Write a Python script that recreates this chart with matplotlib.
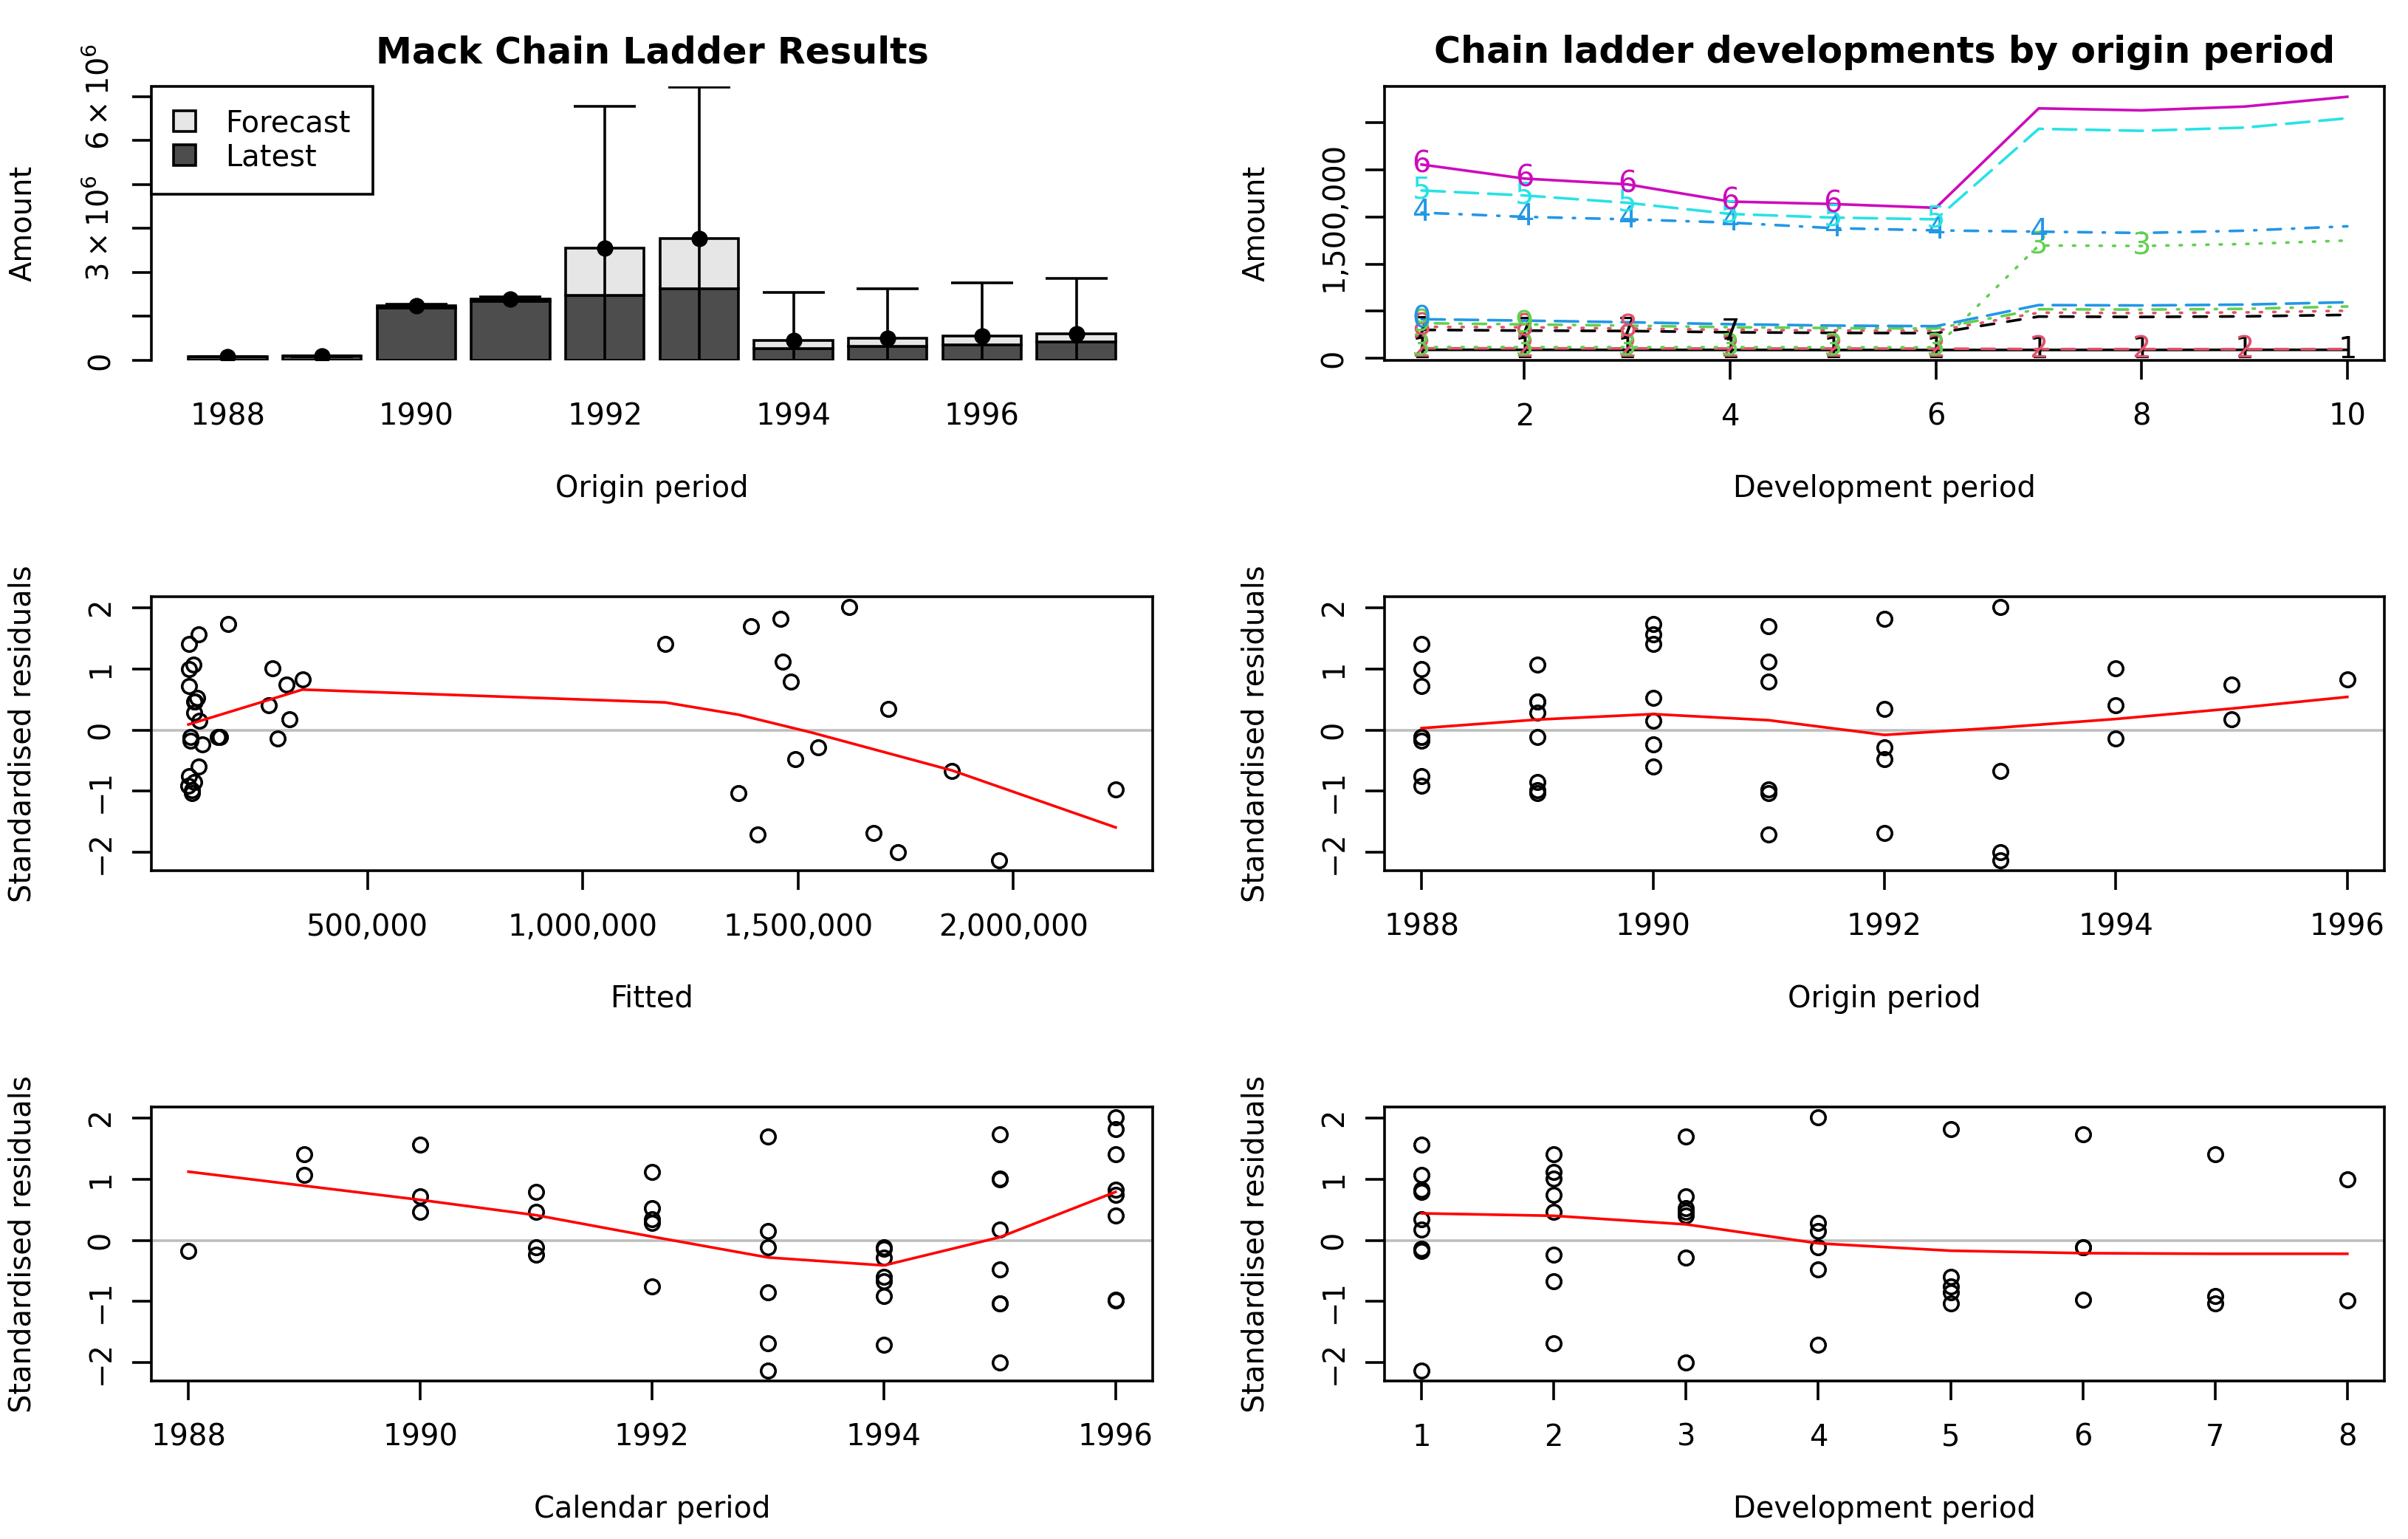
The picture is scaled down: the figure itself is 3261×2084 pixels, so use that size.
import numpy as np
import matplotlib
matplotlib.use('Agg')
import matplotlib.pyplot as plt
from matplotlib.patches import Patch

plt.rcParams['font.family'] = ['DejaVu Sans']
plt.rcParams['font.size'] = 14.4
plt.rcParams['axes.linewidth'] = 1.3

# ---- data ----
origin_years = [1988, 1989, 1990, 1991, 1992, 1993, 1994, 1995, 1996, 1997]
latest = [90e3, 98e3, 1192e3, 1344e3, 1475e3, 1637e3, 276e3, 316e3, 360e3, 415e3]
ultimate = [90e3, 98e3, 1250e3, 1401e3, 2547e3, 2775e3, 461e3, 505e3, 550e3, 600e3]
mack_se = [0, 6e3, 30e3, 40e3, 3230e3, 3440e3, 1087e3, 1118e3, 1208e3, 1260e3]

dev_periods = [1, 2, 3, 4, 5, 6, 7, 8, 9, 10]
dev_1988 = [90e3, 90e3, 89e3, 89e3, 88e3, 88e3, 89e3, 89e3, 90e3, 90e3]
dev_1989 = [106e3, 106e3, 105e3, 104e3, 104e3, 103e3, 98e3, 98e3, 97e3, 98e3]
dev_1990 = [119e3, 119e3, 118e3, 118e3, 117e3, 117e3, 1197e3, 1192e3, 1213e3, 1250e3]
dev_1991 = [1546e3, 1501e3, 1475e3, 1440e3, 1381e3, 1357e3, 1344e3, 1330e3, 1354e3, 1401e3]
dev_1992 = [1781e3, 1728e3, 1650e3, 1532e3, 1493e3, 1475e3, 2435e3, 2414e3, 2448e3, 2547e3]
dev_1993 = [2056e3, 1907e3, 1846e3, 1663e3, 1637e3, 1597e3, 2652e3, 2631e3, 2671e3, 2775e3]
dev_1994 = [302e3, 294e3, 290e3, 276e3, 270e3, 267e3, 443e3, 439e3, 445e3, 461e3]
dev_1995 = [334e3, 329e3, 316e3, 302e3, 295e3, 291e3, 484e3, 480e3, 487e3, 505e3]
dev_1996 = [373e3, 360e3, 347e3, 330e3, 321e3, 316e3, 521e3, 517e3, 525e3, 550e3]
dev_1997 = [415e3, 400e3, 383e3, 362e3, 347e3, 341e3, 565e3, 561e3, 570e3, 595e3]

# standardised residuals: origin, development period, fitted value, residual
res_origin = [1988] * 8 + [1989] * 8 + [1990] * 7 + [1991] * 6 + [1992] * 5 + \
             [1993] * 4 + [1994] * 3 + [1995] * 2 + [1996]
res_dev = [1, 2, 3, 4, 5, 6, 7, 8,
           1, 2, 3, 4, 5, 6, 7, 8,
           1, 2, 3, 4, 5, 6, 7,
           1, 2, 3, 4, 5, 6,
           1, 2, 3, 4, 5,
           1, 2, 3, 4,
           1, 2, 3,
           1, 2,
           1]
res_fitted = [89e3, 86e3, 86e3, 89e3, 86e3, 152e3, 84e3, 86e3,
              96e3, 97e3, 100e3, 97e3, 97e3, 157e3, 93e3, 92e3,
              107e3, 116e3, 105e3, 110e3, 107e3, 176e3, 1192e3,
              1483e3, 1465e3, 1390e3, 1407e3, 1362e3, 2238e3,
              1710e3, 1675e3, 1547e3, 1494e3, 1459e3,
              1967e3, 1858e3, 1733e3, 1619e3,
              291e3, 280e3, 271e3,
              319e3, 312e3,
              349e3]
res_value = [-0.17, 1.41, 0.72, -0.11, -0.75, -0.12, -0.91, 1.00,
             1.07, 0.47, 0.46, 0.28, -0.85, -0.12, -1.03, -0.98,
             1.56, -0.23, 0.52, 0.15, -0.60, 1.73, 1.41,
             0.79, 1.12, 1.69, -1.70, -1.03, -0.97,
             0.34, -1.68, -0.28, -0.48, 1.82,
             -2.13, -0.67, -2.00, 2.01,
             -0.14, 1.01, 0.40,
             0.18, 0.74,
             0.83]

# smoothed (red) lines
smooth_fit_x = [84e3, 349e3, 1192e3, 1362e3, 1531e3, 1858e3, 2238e3]
smooth_fit_y = [0.09, 0.66, 0.45, 0.25, -0.04, -0.66, -1.59]
smooth_origin_x = [1988, 1989, 1990, 1991, 1992, 1993, 1994, 1995, 1996]
smooth_origin_y = [0.03, 0.17, 0.26, 0.16, -0.08, 0.04, 0.18, 0.35, 0.54]
smooth_cal_x = [1988, 1989, 1990, 1991, 1992, 1993, 1994, 1995, 1996]
smooth_cal_y = [1.12, 0.89, 0.66, 0.41, 0.06, -0.28, -0.41, 0.05, 0.79]
smooth_dev_x = [1, 2, 3, 4, 5, 6, 7, 8]
smooth_dev_y = [0.44, 0.40, 0.26, -0.05, -0.17, -0.21, -0.22, -0.22]

# ---- layout (pixel boxes of the R plot regions) ----
W, H = 3262, 2084
fig = plt.figure(figsize=(W / 200, H / 200), dpi=200)
cols = [(205, 1561), (1875, 3229)]
rows = [117, 808, 1499]
ph = 371
LW = 1.3


def make_ax(r, c):
    l, rr = cols[c]
    return fig.add_axes([l / W, 1 - (rows[r] + ph) / H, (rr - l) / W, ph / H])


TL = 9.4   # tick length in points
lab_off = 174  # px from axis to axis title centre


def style_ax(ax, xl, yl, width):
    ax.tick_params(direction='out', length=TL, width=LW, labelsize=14.4)
    ax.tick_params(axis='x', pad=11)
    ax.tick_params(axis='y', pad=8, labelrotation=90)
    for t in ax.get_yticklabels():
        t.set_va('center')
    ax.set_xlabel(xl)
    ax.xaxis.set_label_coords(0.5, -lab_off / ph)
    ax.xaxis.label.set_va('center')
    ax.set_ylabel(yl)
    ax.yaxis.set_label_coords(-lab_off / width, 0.5)
    ax.yaxis.label.set_va('center')


r_cols = ['black', '#DF536B', '#61D04F', '#2297E6', '#28E2E5', '#CD0BBC']
r_lty = ['-', (0, (5.0, 5.0)), (0, (0.8, 4.2)), (0, (0.8, 4.2, 5.0, 4.2)), (0, (8.7, 3.8))]

# ---- panel 1: Mack chain ladder results ----
ax = make_ax(0, 0)
xb = np.arange(len(origin_years))
lat = np.array(latest)
ult = np.array(ultimate)
ax.bar(xb, lat, width=1 / 1.2, color='#4D4D4D', edgecolor='black', linewidth=LW)
ax.bar(xb, ult - lat, bottom=lat, width=1 / 1.2, color='#E6E6E6', edgecolor='black', linewidth=LW)
ax.errorbar(xb, ult, yerr=mack_se, fmt='o', color='black', ms=7, elinewidth=LW,
            capsize=15, capthick=LW)
ax.set_xlim(-0.81, 9.81)
ax.set_ylim(0, 6.235e6)
for s in ['top', 'right', 'bottom']:
    ax.spines[s].set_visible(False)
ax.spines['left'].set_bounds(0, 6e6)
ax.set_yticks(np.arange(0, 7e6, 1e6))
ax.set_yticklabels(['0', '', '', r'$3\times10^{6}$', '', '', r'$6\times10^{6}$'])
ax.set_xticks(xb[::2])
ax.set_xticklabels([str(y) for y in origin_years[::2]])
style_ax(ax, 'Origin period', 'Amount', 1356)
ax.tick_params(axis='x', length=0, pad=11 + TL)
ax.set_title('Mack Chain Ladder Results', fontsize=17.7, fontweight='bold', pad=11.5)
leg = ax.legend(handles=[Patch(facecolor='#E6E6E6', edgecolor='black', linewidth=LW),
                         Patch(facecolor='#4D4D4D', edgecolor='black', linewidth=LW)],
                labels=['Forecast', 'Latest'], loc='upper left', bbox_to_anchor=(0, 1),
                borderaxespad=0, fancybox=False, edgecolor='black', framealpha=1,
                handlelength=0.75, handleheight=0.7, handletextpad=1.0,
                borderpad=0.75, labelspacing=0.15, fontsize=14.4)
leg.get_frame().set_linewidth(LW)

# ---- panel 2: developments by origin period ----
ax = make_ax(0, 1)
dev_rows = [dev_1988, dev_1989, dev_1990, dev_1991, dev_1992,
            dev_1993, dev_1994, dev_1995, dev_1996, dev_1997]
for i, row in enumerate(dev_rows):
    ax.plot(dev_periods, row, color=r_cols[i % 6], linestyle=r_lty[i % 5], lw=LW,
            dash_capstyle='round')
for i, row in enumerate(dev_rows):
    n_obs = len(dev_periods) - i
    for d, v in zip(dev_periods[:n_obs], row[:n_obs]):
        ax.text(d, v, str((i + 1) % 10), color=r_cols[i % 6], ha='center', va='center',
                fontsize=14.4)
ax.set_xlim(0.64, 10.36)
ax.set_ylim(-0.022e6, 2.885e6)
ax.set_xticks([2, 4, 6, 8, 10])
ax.set_yticks(np.arange(0, 2.6e6, 0.5e6))
ax.set_yticklabels(['0', '', '', '1,500,000', '', ''])
style_ax(ax, 'Development period', 'Amount', 1354)
ax.set_title('Chain ladder developments by origin period', fontsize=17.7,
             fontweight='bold', pad=11.5)

calendar = [o + d - 1 for o, d in zip(res_origin, res_dev)]


def resid_panel(ax, x, xs, ys, xl, width):
    ax.axhline(0, color='#BEBEBE', lw=LW, zorder=1)
    ax.plot(x, res_value, 'o', mfc='none', mec='black', ms=7, mew=LW, zorder=2)
    ax.plot(xs, ys, color='red', lw=LW, zorder=3)
    ax.set_ylim(-2.296, 2.176)
    ax.set_yticks([-2, -1, 0, 1, 2])
    ax.set_yticklabels(['\u22122', '\u22121', '0', '1', '2'])
    style_ax(ax, xl, 'Standardised residuals', width)


# ---- panel 3: fitted ----
ax = make_ax(1, 0)
resid_panel(ax, res_fitted, smooth_fit_x, smooth_fit_y, 'Fitted', 1356)
ax.set_xlim(-0.002e6, 2.324e6)
ax.set_xticks([0.5e6, 1e6, 1.5e6, 2e6])
ax.set_xticklabels(['500,000', '1,000,000', '1,500,000', '2,000,000'])

# ---- panel 4: origin period ----
ax = make_ax(1, 1)
resid_panel(ax, res_origin, smooth_origin_x, smooth_origin_y, 'Origin period', 1354)
ax.set_xlim(1987.68, 1996.32)
ax.set_xticks([1988, 1990, 1992, 1994, 1996])

# ---- panel 5: calendar period ----
ax = make_ax(2, 0)
resid_panel(ax, calendar, smooth_cal_x, smooth_cal_y, 'Calendar period', 1356)
ax.set_xlim(1987.68, 1996.32)
ax.set_xticks([1988, 1990, 1992, 1994, 1996])

# ---- panel 6: development period ----
ax = make_ax(2, 1)
resid_panel(ax, res_dev, smooth_dev_x, smooth_dev_y, 'Development period', 1354)
ax.set_xlim(0.72, 8.28)
ax.set_xticks([1, 2, 3, 4, 5, 6, 7, 8])

fig.savefig('out.png', dpi=200, facecolor='white')
